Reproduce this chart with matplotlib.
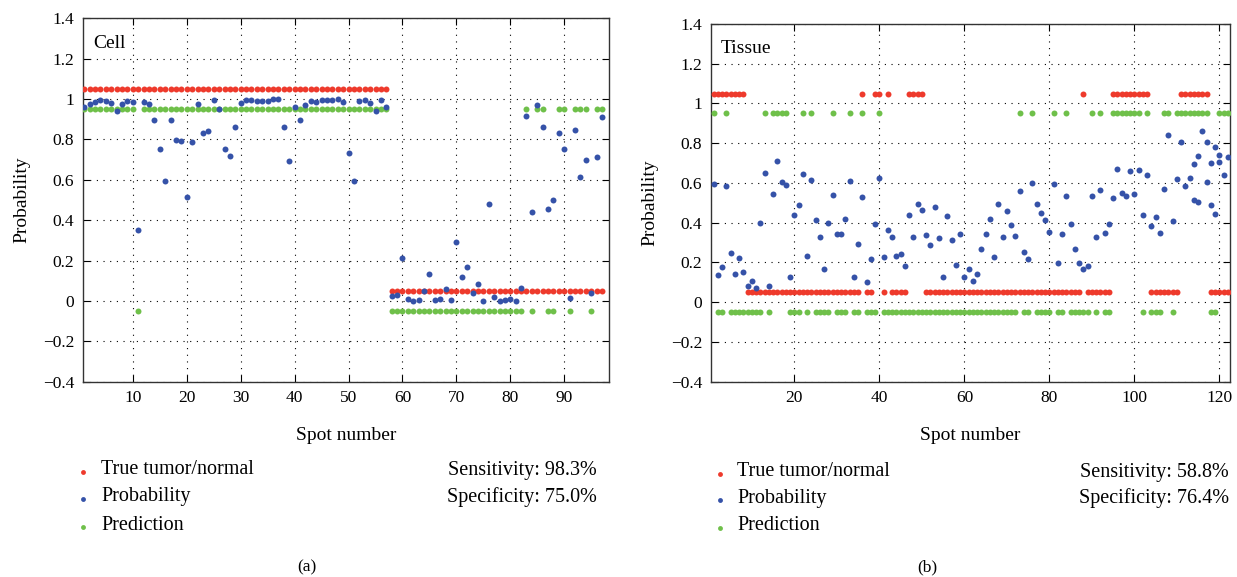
import matplotlib
matplotlib.use("Agg")
import matplotlib.pyplot as plt
import numpy as np
from matplotlib.ticker import FixedLocator

# ---------------- data ----------------
# Panel (a): Cell
cell_truth = [1] * 57 + [0] * 40
cell_pred = ([1] * 10 + [0] + [1] * 46 +
             [0] * 25 + [1, 0, 1, 1, 0, 0, 1, 1, 0, 1, 1, 1, 0, 1, 1])
cell_prob = [0.960, 0.974, 0.985, 0.997, 0.990, 0.980, 0.940, 0.974, 0.990, 0.987,
             0.352, 0.985, 0.977, 0.894, 0.755, 0.592, 0.896, 0.797, 0.790, 0.516,
             0.785, 0.977, 0.831, 0.840, 0.997, 0.950, 0.754, 0.720, 0.863, 0.980,
             0.997, 0.995, 0.990, 0.990, 0.990, 1.000, 0.998, 0.864, 0.694, 0.960,
             0.898, 0.969, 0.990, 0.987, 0.997, 0.997, 0.997, 1.000, 0.983, 0.734,
             0.595, 0.992, 0.997, 0.982, 0.939, 0.997, 0.962, 0.026, 0.028, 0.213,
             0.008, 0.000, 0.005, 0.048, 0.132, 0.003, 0.012, 0.058, 0.007, 0.294,
             0.121, 0.167, 0.038, 0.086, 0.000, 0.478, 0.020, 0.000, 0.005, 0.010,
             0.002, 0.063, 0.916, 0.441, 0.969, 0.860, 0.453, 0.498, 0.830, 0.752,
             0.015, 0.848, 0.613, 0.698, 0.040, 0.712, 0.909]

# Panel (b): Tissue
tissue_truth = ([1] * 8 + [0] * 27 + [1, 0, 0, 1, 1, 0, 1] + [0] * 4 + [1] * 4 +
                [0] * 37 + [1] + [0] * 6 + [1] * 9 + [0] * 7 + [1] * 7 + [0] * 5)
tissue_pred = ([1, 0, 0, 1] + [0] * 8 + [1, 0, 1, 1, 1, 1, 0, 0, 0, 1, 0, 1] +
               [0] * 4 + [1] + [0] * 3 + [1, 0, 0, 1, 0, 0, 0, 1] + [0] * 32 +
               [1, 0, 0, 1, 0, 0, 0, 0, 1, 0, 0, 1, 0, 0, 0, 0, 0, 1, 0, 1, 0, 0] +
               [1] * 7 + [0, 1, 0, 0, 0, 1, 1, 0] + [1] * 8 + [0, 0, 1, 1, 1])
tissue_prob = [0.595, 0.135, 0.178, 0.586, 0.249, 0.142, 0.222, 0.150, 0.083, 0.105,
               0.073, 0.397, 0.652, 0.081, 0.546, 0.713, 0.606, 0.588, 0.127, 0.440,
               0.489, 0.645, 0.235, 0.615, 0.413, 0.330, 0.168, 0.401, 0.537, 0.345,
               0.345, 0.420, 0.608, 0.125, 0.291, 0.531, 0.101, 0.219, 0.395, 0.627,
               0.226, 0.362, 0.330, 0.232, 0.242, 0.180, 0.439, 0.326, 0.494, 0.464,
               0.340, 0.289, 0.479, 0.323, 0.128, 0.435, 0.311, 0.185, 0.342, 0.125,
               0.168, 0.108, 0.142, 0.267, 0.345, 0.417, 0.228, 0.494, 0.330, 0.457,
               0.388, 0.335, 0.561, 0.251, 0.215, 0.600, 0.492, 0.449, 0.415, 0.355,
               0.597, 0.197, 0.345, 0.536, 0.394, 0.269, 0.199, 0.168, 0.180, 0.534,
               0.326, 0.566, 0.350, 0.395, 0.524, 0.668, 0.551, 0.536, 0.658, 0.545,
               0.663, 0.440, 0.640, 0.382, 0.429, 0.348, 0.569, 0.841, 0.410, 0.618,
               0.808, 0.583, 0.625, 0.694, 0.737, 0.860, 0.808, 0.487, 0.445, 0.742,
               0.638, 0.732]
# additional probability points seen near the end of panel (b)
tissue_extra_spot = [114, 115, 117, 118, 119, 120]
tissue_extra_prob = [0.516, 0.502, 0.605, 0.699, 0.781, 0.707]

yticks = [-0.4, -0.2, 0, 0.2, 0.4, 0.6, 0.8, 1.0, 1.2, 1.4]
ytick_labels = ["\u22120.4", "\u22120.2", "0", "0.2", "0.4", "0.6", "0.8", "1", "1.2", "1.4"]
cell_xticks = [10, 20, 30, 40, 50, 60, 70, 80, 90]
tissue_xticks = [20, 40, 60, 80, 100, 120]

# ---------------- style ----------------
RED = "#ee3a2c"
BLUE = "#3552a8"
GREEN = "#6fc04a"
SERIF = ["Liberation Serif", "DejaVu Serif"]
plt.rcParams["font.family"] = SERIF
plt.rcParams["mathtext.fontset"] = "stix"

W, H = 1237, 577
fig = plt.figure(figsize=(W / 100, H / 100), dpi=100)


def px_axes(l, t, r, b):
    return fig.add_axes([l / W, 1 - b / H, (r - l) / W, (b - t) / H])


def draw_panel(ax, truth, pred, prob, xlim, xticks, title, extra=None):
    n = len(truth)
    spots = np.arange(1, n + 1)
    truth_y = np.array(truth) + 0.05
    pred_y = np.array(pred) - 0.05
    ms = 4.3
    ax.plot(spots, truth_y, "o", color=RED, ms=ms, mew=0, zorder=3)
    ax.plot(spots, pred_y, "o", color=GREEN, ms=ms, mew=0, zorder=3)
    ax.plot(spots, prob, "o", color=BLUE, ms=ms, mew=0, zorder=4)
    if extra is not None:
        ax.plot(extra[0], extra[1], "o", color=BLUE, ms=ms, mew=0, zorder=4)
    ax.set_xlim(*xlim)
    ax.set_ylim(-0.4, 1.4)
    ax.yaxis.set_major_locator(FixedLocator(yticks))
    ax.set_yticklabels(ytick_labels)
    ax.xaxis.set_major_locator(FixedLocator(xticks))
    ax.set_xticklabels([str(t) for t in xticks])
    ax.tick_params(direction="in", length=5, width=0.8, top=True, right=True,
                   labelsize=12.5, pad=6)
    ax.grid(True, linestyle=(0, (1, 5)), color="black", linewidth=0.8)
    for sp in ax.spines.values():
        sp.set_linewidth(1.0)
        sp.set_color("#333333")
    ax.set_xlabel("Spot number", fontsize=14, labelpad=15)
    ax.set_ylabel("Probability", fontsize=14, labelpad=9)
    ax.text(0.02, 0.955, title, transform=ax.transAxes, fontsize=14,
            ha="left", va="top")


ax1 = px_axes(82.7, 18.3, 609, 381.7)
draw_panel(ax1, cell_truth, cell_pred, cell_prob, (0.7, 98.3), cell_xticks, "Cell")

ax2 = px_axes(710.7, 24, 1230, 381.7)
draw_panel(ax2, tissue_truth, tissue_pred, tissue_prob, (0.3, 122.5), tissue_xticks,
           "Tissue", extra=(tissue_extra_spot, tissue_extra_prob))


def legend_block(xdot, xtext, ys, xright, stats):
    labels = ["True tumor/normal", "Probability", "Prediction"]
    cols = [RED, BLUE, GREEN]
    for y, lab, c in zip(ys, labels, cols):
        fig.lines.append(plt.Line2D([xdot / W], [1 - (y + 2) / H], marker="o", ms=3.5,
                                    mew=0, color=c, transform=fig.transFigure))
        fig.text(xtext / W, 1 - y / H, lab, fontsize=14.5, ha="left", va="center")
    for y, s in zip(ys[:2], stats):
        fig.text(xright / W, 1 - y / H, s, fontsize=14.5, ha="right", va="center")


legend_block(83, 101, [470, 497, 525], 597,
             ["Sensitivity: 98.3%", "Specificity: 75.0%"])
legend_block(720, 737, [472, 498, 526], 1229,
             ["Sensitivity: 58.8%", "Specificity: 76.4%"])

fig.text(307 / W, 1 - 567 / H, "(a)", fontsize=12.5, ha="center", va="center")
fig.text(927 / W, 1 - 567 / H, "(b)", fontsize=12.5, ha="center", va="center")

fig.savefig("out.png", dpi=100)
